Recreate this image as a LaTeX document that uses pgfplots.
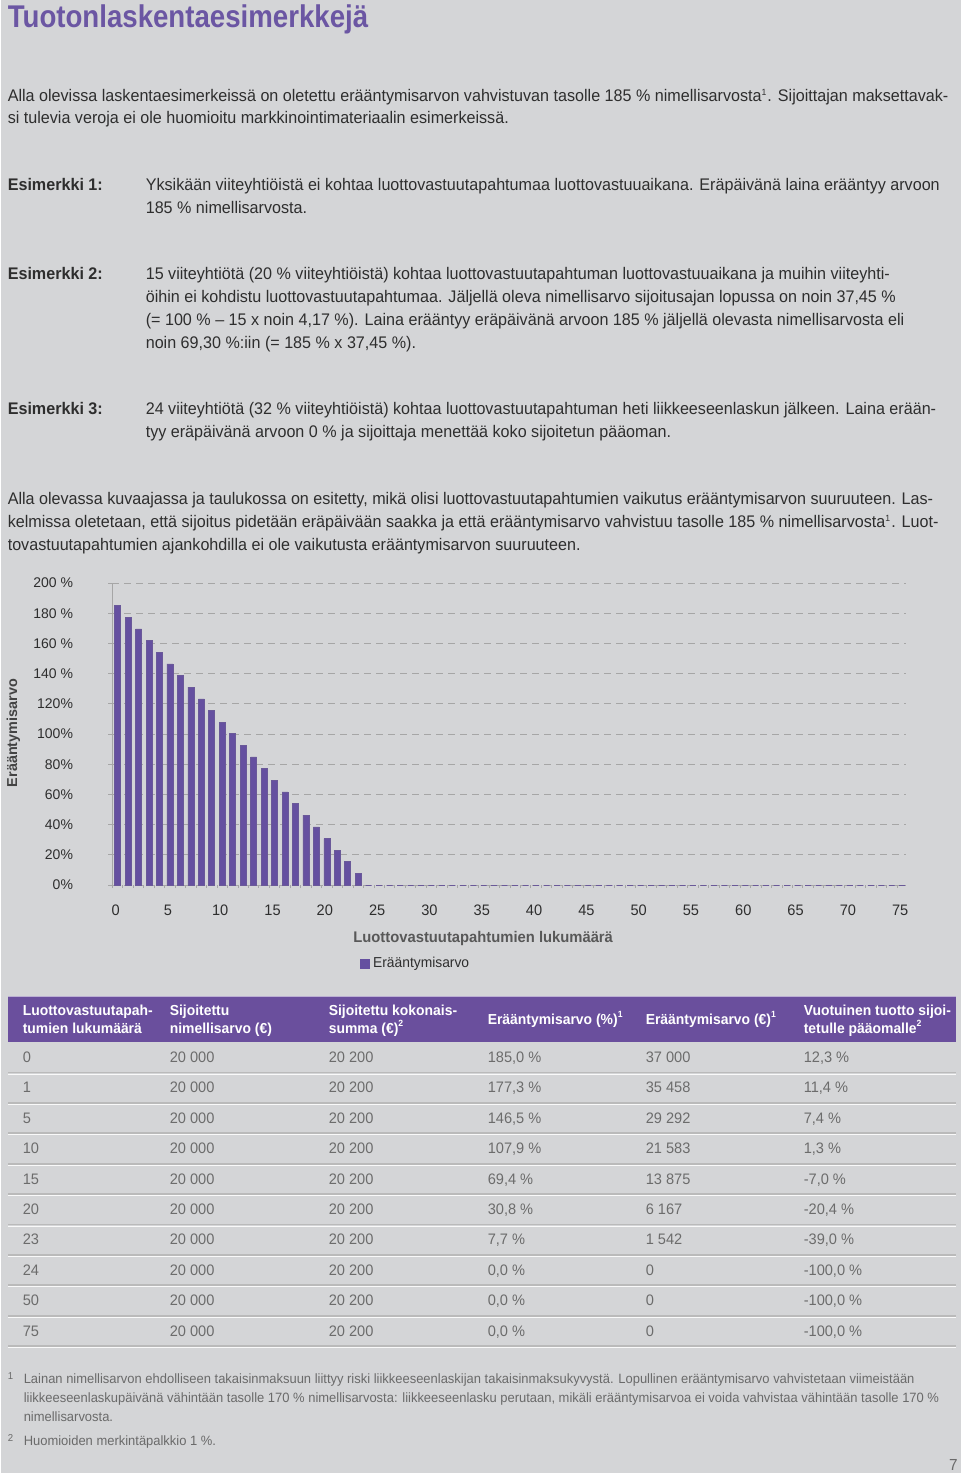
\documentclass[border=0pt]{standalone}
\usepackage{fontspec}
\setmainfont[FakeStretch=0.96]{Liberation Sans}
\newfontfamily\arialfont{Liberation Sans}
\newfontfamily\titlefont[FakeStretch=0.88]{Liberation Sans}
\usepackage{pgfplots}
\pgfplotsset{compat=1.18}
\definecolor{bg}{HTML}{D4D5D7}
\definecolor{barpurple}{HTML}{6550A0}
\definecolor{titlepurple}{HTML}{6B56A3}
\definecolor{headpurple}{HTML}{6A4F9D}
\definecolor{bodytext}{HTML}{2E2E2E}
\definecolor{tabtext}{HTML}{6C6C6C}
\definecolor{foottext}{HTML}{6A6A6A}
\newcommand\bodyf{\fontsize{8.4pt}{9pt}\selectfont\color{bodytext}}
\newcommand\tabf{\fontsize{7.6pt}{9pt}\selectfont\color{tabtext}}
\newcommand\headf{\fontsize{7.25pt}{9pt}\selectfont\bfseries\color{white}}
\newcommand\footf{\fontsize{6.75pt}{8pt}\selectfont\color{foottext}}
\newcommand\supx[1]{\textsuperscript{\fontsize{4.5pt}{5pt}\selectfont #1}}
\begin{document}
\begin{tikzpicture}
\begin{scope}[x=0.5pt,y=-0.5pt]
\fill[bg] (0,0) rectangle (960,1473);
\clip (0,0) rectangle (960,1473);
% title
\node[anchor=base west,inner sep=0,font=\titlefont\fontsize{15.7pt}{17pt}\selectfont\bfseries,text=titlepurple] at (6,27) {Tuotonlaskentaesimerkkejä};
% paragraph 1
\node[anchor=base west,inner sep=0,font=\bodyf] at (6,101) {Alla olevissa laskentaesimerkeissä on oletettu erääntymisarvon vahvistuvan tasolle 185 \% nimellisarvosta\supx{1}. Sijoittajan maksettavak-};
\node[anchor=base west,inner sep=0,font=\bodyf] at (6,123) {si tulevia veroja ei ole huomioitu markkinointimateriaalin esimerkeissä.};
% example 1
\node[anchor=base west,inner sep=0,font=\bodyf\bfseries] at (6,190) {Esimerkki 1:};
\node[anchor=base west,inner sep=0,font=\bodyf] at (144,190) {Yksikään viiteyhtiöistä ei kohtaa luottovastuutapahtumaa luottovastuuaikana. Eräpäivänä laina erääntyy arvoon};
\node[anchor=base west,inner sep=0,font=\bodyf] at (144,213) {185 \% nimellisarvosta.};
% example 2
\node[anchor=base west,inner sep=0,font=\bodyf\bfseries] at (6,279) {Esimerkki 2:};
\node[anchor=base west,inner sep=0,font=\bodyf] at (144,279) {15 viiteyhtiötä (20 \% viiteyhtiöistä) kohtaa luottovastuutapahtuman luottovastuuaikana ja muihin viiteyhti-};
\node[anchor=base west,inner sep=0,font=\bodyf] at (144,302) {öihin ei kohdistu luottovastuutapahtumaa. Jäljellä oleva nimellisarvo sijoitusajan lopussa on noin 37,45 \%};
\node[anchor=base west,inner sep=0,font=\bodyf] at (144,325) {(= 100 \% – 15 x noin 4,17 \%). Laina erääntyy eräpäivänä arvoon 185 \% jäljellä olevasta nimellisarvosta eli};
\node[anchor=base west,inner sep=0,font=\bodyf] at (144,348) {noin 69,30 \%:iin (= 185 \% x 37,45 \%).};
% example 3
\node[anchor=base west,inner sep=0,font=\bodyf\bfseries] at (6,414) {Esimerkki 3:};
\node[anchor=base west,inner sep=0,font=\bodyf] at (144,414) {24 viiteyhtiötä (32 \% viiteyhtiöistä) kohtaa luottovastuutapahtuman heti liikkeeseenlaskun jälkeen. Laina erään-};
\node[anchor=base west,inner sep=0,font=\bodyf] at (144,437) {tyy eräpäivänä arvoon 0 \% ja sijoittaja menettää koko sijoitetun pääoman.};
% paragraph
\node[anchor=base west,inner sep=0,font=\bodyf] at (6,504) {Alla olevassa kuvaajassa ja taulukossa on esitetty, mikä olisi luottovastuutapahtumien vaikutus erääntymisarvon suuruuteen. Las-};
\node[anchor=base west,inner sep=0,font=\bodyf] at (6,527) {kelmissa oletetaan, että sijoitus pidetään eräpäivään saakka ja että erääntymisarvo vahvistuu tasolle 185 \% nimellisarvosta\supx{1}. Luot-};
\node[anchor=base west,inner sep=0,font=\bodyf] at (6,550) {tovastuutapahtumien ajankohdilla ei ole vaikutusta erääntymisarvon suuruuteen.};
% table header
\fill[headpurple] (7,996) rectangle (955,1042);
\draw[headpurple!45!white,line width=0.6pt] (7,996.5) -- (955,996.5);
\foreach \x/\a/\b in {21/Luottovastuutapah-/tumien lukumäärä, 168/Sijoitettu/nimellisarvo (€), 327/Sijoitettu kokonais-/summa (€)\supx{2}, 802/Vuotuinen tuotto sijoi-/tetulle pääomalle\supx{2}}{
  \node[anchor=base west,inner sep=0,font=\headf] at (\x,1015) {\a};
  \node[anchor=base west,inner sep=0,font=\headf] at (\x,1033) {\b};
}
\node[anchor=base west,inner sep=0,font=\headf] at (486,1024) {Erääntymisarvo (\%)\supx{1}};
\node[anchor=base west,inner sep=0,font=\headf] at (644,1024) {Erääntymisarvo (€)\supx{1}};
% table rows
\foreach \i/\n/\p/\e/\r in {0/0/{185,0 \%}/37 000/{12,3 \%}, 1/1/{177,3 \%}/35 458/{11,4 \%}, 2/5/{146,5 \%}/29 292/{7,4 \%}, 3/10/{107,9 \%}/21 583/{1,3 \%}, 4/15/{69,4 \%}/13 875/{-7,0 \%}, 5/20/{30,8 \%}/6 167/{-20,4 \%}, 6/23/{7,7 \%}/1 542/{-39,0 \%}, 7/24/{0,0 \%}/0/{-100,0 \%}, 8/50/{0,0 \%}/0/{-100,0 \%}, 9/75/{0,0 \%}/0/{-100,0 \%}}{
  \pgfmathsetmacro\yy{1062.5+30.4*\i}
  \node[anchor=base west,inner sep=0,font=\tabf] at (21,\yy) {\n};
  \node[anchor=base west,inner sep=0,font=\tabf] at (168,\yy) {20 000};
  \node[anchor=base west,inner sep=0,font=\tabf] at (327,\yy) {20 200};
  \node[anchor=base west,inner sep=0,font=\tabf] at (486,\yy) {\p};
  \node[anchor=base west,inner sep=0,font=\tabf] at (644,\yy) {\e};
  \node[anchor=base west,inner sep=0,font=\tabf] at (802,\yy) {\r};
  \pgfmathsetmacro\ly{1072.5+30.4*\i}
  \draw[color=black!27,line width=0.9pt] (7,\ly) -- (955,\ly);
  \draw[color=white!85!bg,line width=0.5pt] (7,\ly+1.6) -- (955,\ly+1.6);
}
% footnotes
\node[anchor=base west,inner sep=0,font=\fontsize{5pt}{6pt}\selectfont\color{foottext}] at (6,1379) {1};
\node[anchor=base west,inner sep=0,font=\footf] at (22,1383) {Lainan nimellisarvon ehdolliseen takaisinmaksuun liittyy riski liikkeeseenlaskijan takaisinmaksukyvystä. Lopullinen erääntymisarvo vahvistetaan viimeistään};
\node[anchor=base west,inner sep=0,font=\footf] at (22,1402) {liikkeeseenlaskupäivänä vähintään tasolle 170 \% nimellisarvosta: liikkeeseenlasku perutaan, mikäli erääntymisarvoa ei voida vahvistaa vähintään tasolle 170 \%};
\node[anchor=base west,inner sep=0,font=\footf] at (22,1421) {nimellisarvosta.};
\node[anchor=base west,inner sep=0,font=\fontsize{5pt}{6pt}\selectfont\color{foottext}] at (6,1441) {2};
\node[anchor=base west,inner sep=0,font=\footf] at (22,1445) {Huomioiden merkintäpalkkio 1 \%.};
\node[anchor=base,inner sep=0,font=\fontsize{8pt}{9pt}\selectfont\color{foottext}] at (952,1470) {7};
\end{scope}
\begin{axis}[
  at={(55.5pt,-442.5pt)}, anchor=south west,
  scale only axis, width=397pt, height=151pt,
  xmin=-0.5, xmax=75.4, ymin=0, ymax=200,
  axis x line*=bottom, axis y line*=left,
  x axis line style={draw=none},
  y axis line style={draw=black!35, line width=0.5pt},
  xtick={0,5,...,75},
  minor xtick={-0.5,0.5,...,75.5},
  ytick={0,20,...,200},
  yticklabels={0\%,20\%,40\%,60\%,80\%,100\%,120\%,140 \%,160 \%,180 \%,200 \%},
  /pgf/number format/assume math mode=true,
  tick align=outside,
  major tick length=2pt, minor tick length=1.5pt,
  xtick style={draw=none},
  minor x tick style={draw=black!35, line width=0.4pt},
  ytick style={draw=black!35, line width=0.4pt},
  ymajorgrids, grid style={draw=black!35, dash pattern=on 3.5pt off 2.5pt, line width=0.5pt},
  yticklabel style={font=\arialfont\fontsize{7pt}{8pt}\selectfont, text=bodytext, anchor=east, inner sep=0pt, xshift=-17.5pt},
  xticklabel style={font=\fontsize{7.6pt}{8pt}\selectfont, text=bodytext, anchor=center, inner sep=0pt, yshift=-10.5pt, xshift=-1pt},
  xlabel={Luottovastuutapahtumien lukumäärä},
  xlabel style={at={(axis description cs:0.467,0)}, anchor=center, yshift=-27pt, font=\fontsize{7.7pt}{8pt}\selectfont\bfseries, text=bodytext!80!white},
  ylabel={Erääntymisarvo},
  ylabel style={at={(axis description cs:-0.1247,0.503)}, anchor=center, font=\arialfont\fontsize{7.2pt}{8pt}\selectfont\bfseries, text=bodytext!90!white},
  legend style={at={(axis description cs:0.3110,-0.26)}, anchor=west, draw=none, fill=none, inner sep=0pt, font=\fontsize{7.2pt}{8pt}\selectfont, text=bodytext, legend cell align=left},
  legend image code/.code={\fill[barpurple] (0pt,-2.2pt) rectangle (4.4pt,2.2pt);},
  clip=false,
]
\addplot[ybar, bar width=0.57, fill=barpurple, draw=barpurple!80!gray, line width=0.3pt] coordinates {
(0,185.0) (1,177.3) (2,169.6) (3,161.9) (4,154.2) (5,146.5) (6,138.8) (7,131.0) (8,123.3) (9,115.6)
(10,107.9) (11,100.2) (12,92.5) (13,84.8) (14,77.1) (15,69.4) (16,61.7) (17,53.9) (18,46.3) (19,38.5)
(20,30.8) (21,23.1) (22,15.4) (23,7.7) (24,0) (25,0) (26,0) (27,0) (28,0) (29,0)
(30,0) (31,0) (32,0) (33,0) (34,0) (35,0) (36,0) (37,0) (38,0) (39,0)
(40,0) (41,0) (42,0) (43,0) (44,0) (45,0) (46,0) (47,0) (48,0) (49,0)
(50,0) (51,0) (52,0) (53,0) (54,0) (55,0) (56,0) (57,0) (58,0) (59,0)
(60,0) (61,0) (62,0) (63,0) (64,0) (65,0) (66,0) (67,0) (68,0) (69,0)
(70,0) (71,0) (72,0) (73,0) (74,0) (75,0)
};
\addlegendentry{Erääntymisarvo}
\end{axis}
\end{tikzpicture}
\end{document}
